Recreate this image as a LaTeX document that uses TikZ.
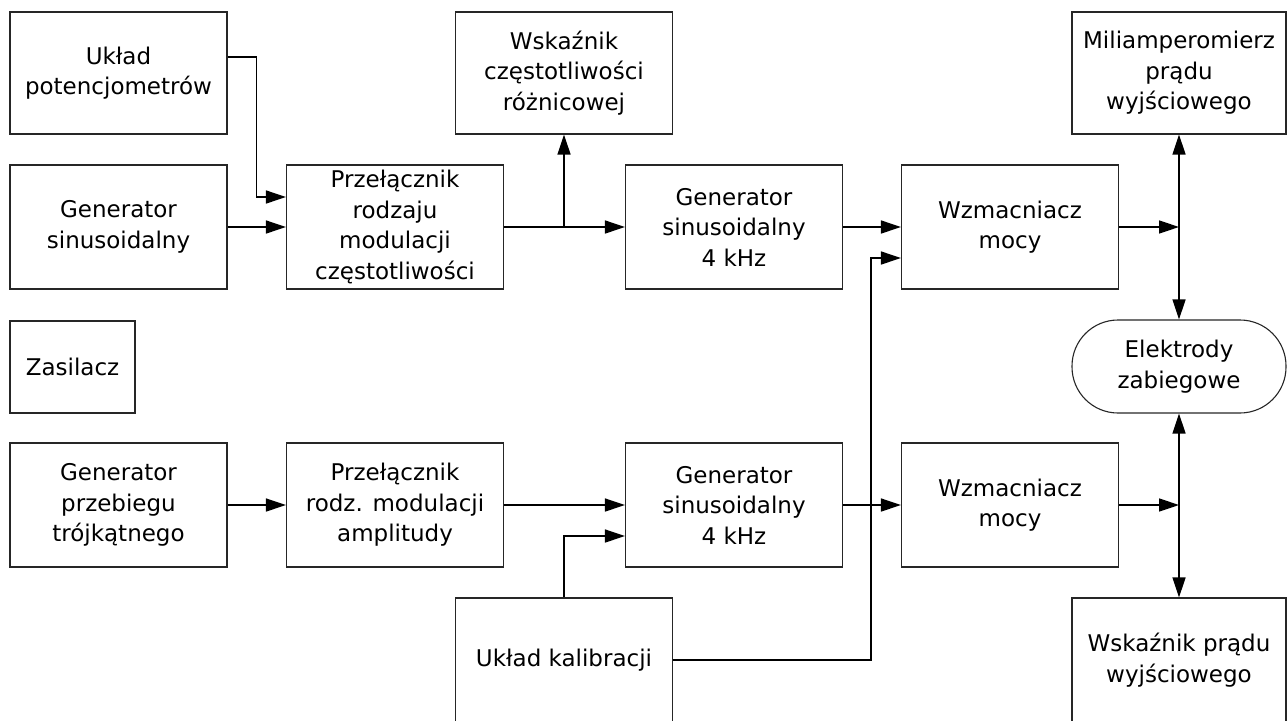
\documentclass[tikz,border=0pt]{standalone}
\usepackage{fontspec}
\setmainfont{DejaVu Sans}
\usetikzlibrary{arrows.meta,calc}
\begin{document}
\begin{tikzpicture}[x=1pt,y=-1pt,
  blk/.style={draw=black!85, line width=1.1pt, minimum width=217pt, minimum height=124pt,
    align=center, inner sep=0pt, font=\fontsize{23}{30.5}\selectfont},
  con/.style={line width=1.4pt, draw=black},
  arr/.style={con, -{Triangle[length=20pt,width=13pt]}},
  barr/.style={con, {Triangle[length=20pt,width=13pt]}-{Triangle[length=20pt,width=13pt]}}]
\useasboundingbox (0,0) rectangle (1287,720);
\clip (0,0) rectangle (1287,720);
% top row
\node[blk, minimum height=122pt] (pot) at (118.5,73) {Układ\\potencjometrów};
\node[blk, minimum height=122pt] (wcz) at (564,73) {Wskaźnik\\częstotliwości\\różnicowej};
\node[blk, minimum height=122pt, minimum width=214pt] (mili) at (1179,73) {Miliamperomierz\\prądu\\wyjściowego};
% second row
\node[blk] (gens) at (118.5,227) {Generator\\sinusoidalny};
\node[blk] (pfm) at (395,227) {Przełącznik\\rodzaju\\modulacji\\częstotliwości};
\node[blk] (g4a) at (734,227) {Generator\\sinusoidalny\\4 kHz};
\node[blk] (wza) at (1010,227) {Wzmacniacz\\mocy};
% middle
\node[blk, minimum width=125pt, minimum height=92pt] (zas) at (72.5,367) {Zasilacz};
\node[blk, minimum width=214pt, minimum height=93pt, rounded corners=46pt] (elek) at (1179,366.5) {Elektrody\\zabiegowe};
% lower row
\node[blk] (gpt) at (118.5,505) {Generator\\przebiegu\\trójkątnego};
\node[blk] (pam) at (395,505) {Przełącznik\\rodz. modulacji\\amplitudy};
\node[blk] (g4b) at (734,505) {Generator\\sinusoidalny\\4 kHz};
\node[blk] (wzb) at (1010,505) {Wzmacniacz\\mocy};
% bottom
\node[blk] (kal) at (564,660) {Układ kalibracji};
\node[blk, minimum width=214pt] (wskp) at (1179,660) {Wskaźnik prądu\\wyjściowego};
\coordinate (k1) at (871,660);
% connectors upper
\draw[arr] ([yshift=16pt]pot.east) -- ++(29,0) |- ([yshift=30pt]pfm.west);
\draw[arr] (gens.east) -- (pfm.west);
\draw[arr] (pfm.east) -- (g4a.west);
\draw[arr] (pfm.east -| wcz.south) -- (wcz.south);
\draw[arr] (g4a.east) -- (wza.west);
\draw[arr] (wza.east) -- (wza.east -| mili.south);
\draw[barr] (mili.south) -- (elek.north);
% connectors lower
\draw[arr] (gpt.east) -- (pam.west);
\draw[arr] (pam.east) -- (g4b.west);
\draw[arr] (g4b.east) -- (wzb.west);
\draw[arr] (wzb.east) -- (wzb.east -| wskp.north);
\draw[barr] (elek.south) -- (wskp.north);
\draw[arr] (kal.north) |- ([yshift=-31pt]g4b.west);
\draw[arr] (kal.east) -- (k1) |- ([yshift=-31pt]wza.west);
\end{tikzpicture}
\end{document}
